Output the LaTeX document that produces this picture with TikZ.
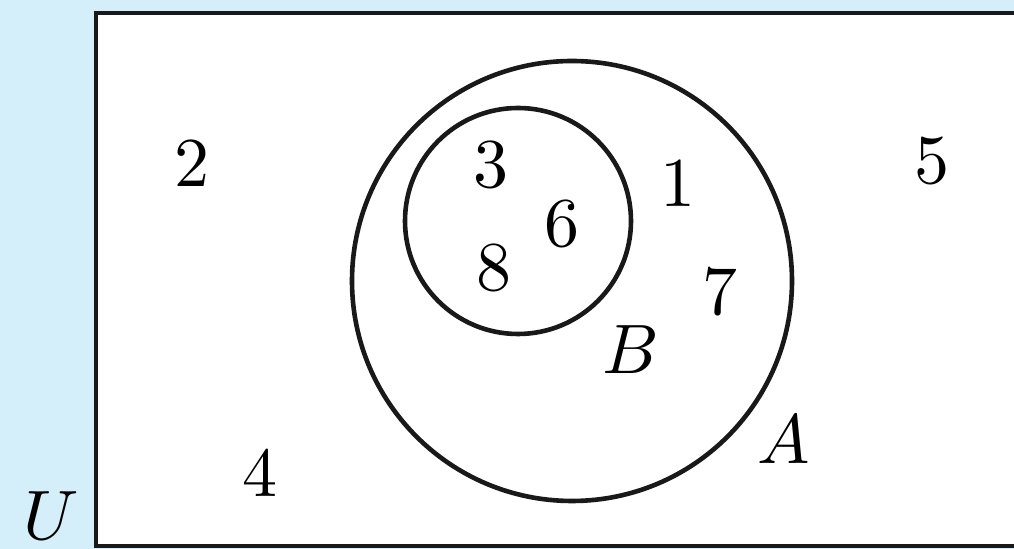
\documentclass[tikz,border=0pt]{standalone}
\usepackage{graphicx}
\begin{document}
\begin{tikzpicture}[x=0.5pt,y=-0.5pt,
  lbl/.style={inner sep=0pt},
  setline/.style={draw=black!90,line width=2.3pt}]
\definecolor{bgblue}{RGB}{212,238,250}
\useasboundingbox (0,0) rectangle (1014,549);
\clip (0,0) rectangle (1014,549);
\fill[bgblue] (0,0) rectangle (1014,549);
\coordinate (ul) at (96,13);
\coordinate (lr) at (1030,546);
\draw[setline,fill=white,line width=2.4pt] (ul) rectangle (lr);
\coordinate (ca) at (572,281);
\coordinate (cb) at (518,221);
\draw[setline] (ca) circle[radius=110pt];
\draw[setline] (cb) circle[radius=56.5pt];
\node[lbl] (n2) at (192,163) {\scalebox{3.5}{2}};
\node[lbl] (n3) at (491,165) {\scalebox{3.5}{3}};
\node[lbl] (n6) at (562,224) {\scalebox{3.5}{6}};
\node[lbl] (n8) at (494,268) {\scalebox{3.5}{8}};
\node[lbl] (n1) at (678,183) {\scalebox{3.5}{1}};
\node[lbl] (n7) at (720,292) {\scalebox{3.5}{7}};
\node[lbl] (n5) at (932,161) {\scalebox{3.5}{5}};
\node[lbl] (n4) at (260,473) {\scalebox{3.5}{4}};
\node[lbl] (lB) at (631,350) {\scalebox{3.5}{$B$}};
\node[lbl] (lA) at (784,440) {\scalebox{3.5}{$A$}};
\node[lbl] (lU) at (51,516) {\scalebox{3.5}{$U$}};
\end{tikzpicture}
\end{document}
